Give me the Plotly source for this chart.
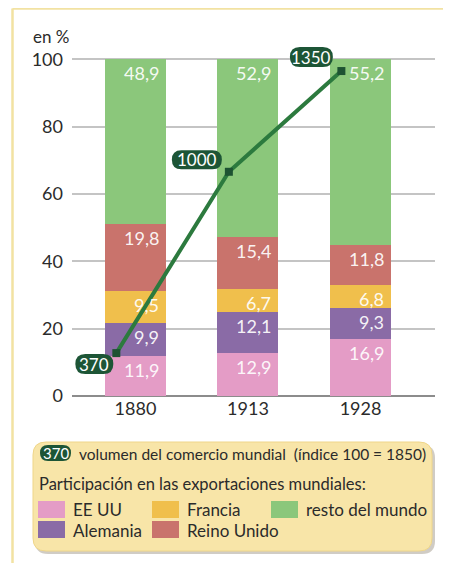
import plotly.graph_objects as go

# data
years = ["1880", "1913", "1928"]
eeuu = [11.9, 12.9, 16.9]
alemania = [9.9, 12.1, 9.3]
francia = [9.5, 6.7, 6.8]
reino_unido = [19.8, 15.4, 11.8]
resto = [48.9, 52.9, 55.2]
volumen = [370, 1000, 1350]

series = [
    ("EE UU", eeuu, "#e49cc6"),
    ("Alemania", alemania, "#8a6ba6"),
    ("Francia", francia, "#f0bf4c"),
    ("Reino Unido", reino_unido, "#c9736c"),
    ("resto del mundo", resto, "#8bc77b"),
]

FONT = "Lato"
OFF = 8                      # page body margin
W, H = 451 - 2 * OFF, 571 - 2 * OFF
ML, MR, MT, MB = 64, 8, 38, 167
PW, PH = W - ML - MR, H - MT - MB
BAR_W = 0.542
LINE_DX = -0.17

xs = list(range(len(years)))


def px(x):
    # x in window pixels -> paper
    return (x - OFF - ML) / PW


def py(y):
    return (H - MB - (y - OFF)) / PH


def rrect(x0, y0, x1, y1, r, cx, cy):
    pts = [("M", x0 + r, y0), ("L", x1 - r, y0), ("Q", x1, y0, x1, y0 + r),
           ("L", x1, y1 - r), ("Q", x1, y1, x1 - r, y1), ("L", x0 + r, y1),
           ("Q", x0, y1, x0, y1 - r), ("L", x0, y0 + r), ("Q", x0, y0, x0 + r, y0)]
    out = []
    for p in pts:
        cmd, vals = p[0], p[1:]
        coords = []
        for i in range(0, len(vals), 2):
            coords.append(f"{cx(vals[i]):.5f},{cy(vals[i + 1]):.5f}")
        out.append(cmd + " ".join(coords))
    return " ".join(out) + " Z"


fig = go.Figure()

for name, vals, color in series:
    fig.add_trace(go.Bar(x=xs, y=vals, name=name, width=BAR_W,
                         marker=dict(color=color, line=dict(width=0)),
                         showlegend=False, hoverinfo="skip"))

# segment labels, right-aligned near top of each segment
annotations = []
cum = [0.0] * len(years)
for name, vals, color in series:
    for i, v in enumerate(vals):
        cum[i] += v
        annotations.append(dict(
            x=i + BAR_W / 2, y=cum[i], xref="x", yref="y",
            text=f"{v:.1f}".replace(".", ","), showarrow=False,
            xanchor="right", yanchor="middle", xshift=-5, yshift=-14,
            font=dict(family=FONT, size=18, color="rgba(255,255,255,0.93)")))

# trade volume line
line_x = [x + LINE_DX for x in xs]
fig.add_trace(go.Scatter(x=line_x, y=volumen, yaxis="y2", mode="lines+markers",
                         line=dict(color="#2c7a3e", width=4),
                         marker=dict(symbol="square", size=8, color="#1d5232"),
                         showlegend=False, hoverinfo="skip"))

shapes = []
pill_off = [(-22, -11, 38, 20), (-32, 12, 50, 19), (-30, 14, 43, 20)]
for i, v in enumerate(volumen):
    dx, dy, w, h = pill_off[i]
    shapes.append(dict(type="path", xref="x", yref="y2", xsizemode="pixel",
                       ysizemode="pixel", xanchor=line_x[i], yanchor=v,
                       path=rrect(dx - w / 2, dy - h / 2, dx + w / 2, dy + h / 2, h / 2,
                                  lambda a: a, lambda b: b),
                       fillcolor="#1d5536", line=dict(width=0), layer="above"))
    annotations.append(dict(x=line_x[i], y=v, xref="x", yref="y2", text=str(v),
                            showarrow=False, xshift=dx, yshift=dy,
                            xanchor="center", yanchor="middle",
                            font=dict(family=FONT, size=17, color="white")))

# outer frame (top and left)
shapes.append(dict(type="line", xref="paper", yref="paper", x0=px(12.5), x1=px(443),
                   y0=py(8.5), y1=py(8.5), line=dict(color="#f2e2a2", width=2.5)))
shapes.append(dict(type="line", xref="paper", yref="paper", x0=px(12.5), x1=px(12.5),
                   y0=py(8.5), y1=py(563), line=dict(color="#f2e2a2", width=2.5)))

# legend box with shadow
shapes.append(dict(type="path", xref="paper", yref="paper",
                   path=rrect(35, 445, 435, 554, 13, px, py),
                   fillcolor="rgba(120,110,90,0.35)", line=dict(width=0)))
shapes.append(dict(type="path", xref="paper", yref="paper",
                   path=rrect(33, 442, 432, 551, 13, px, py),
                   fillcolor="#f8e5a8", line=dict(color="#efd68a", width=1)))
shapes.append(dict(type="path", xref="paper", yref="paper",
                   path=rrect(40, 445, 71, 461, 8, px, py),
                   fillcolor="#1d5536", line=dict(width=0)))
annotations.append(dict(x=px(55.5), y=py(453), xref="paper", yref="paper",
                        xanchor="center", yanchor="middle",
                        text=str(volumen[0]), showarrow=False,
                        font=dict(family=FONT, size=15, color="white")))

legend_text = dict(family=FONT, size=17, color="#2b2b2b")
annotations.append(dict(x=px(77), y=py(454), xref="paper", yref="paper",
                        xanchor="left", yanchor="middle", showarrow=False,
                        text="volumen del comercio mundial  (índice 100 = 1850)",
                        font=dict(family=FONT, size=15.5, color="#2b2b2b")))
annotations.append(dict(x=px(37), y=py(484), xref="paper", yref="paper",
                        xanchor="left", yanchor="middle", showarrow=False,
                        text="Participación en las exportaciones mundiales:",
                        font=dict(family=FONT, size=16.5, color="#2b2b2b")))

legend_pos = [(38, 501), (38, 521), (152, 501), (152, 521), (271, 501)]
for (name, vals, color), (lx, ly) in zip(series, legend_pos):
    shapes.append(dict(type="rect", xref="paper", yref="paper",
                       x0=px(lx), x1=px(lx + 27), y0=py(ly), y1=py(ly + 17),
                       fillcolor=color, line=dict(width=0)))
    annotations.append(dict(x=px(lx + 33), y=py(ly + 9), xref="paper", yref="paper",
                            xanchor="left", yanchor="middle", showarrow=False,
                            text=name, font=legend_text))

annotations.append(dict(x=px(31), y=py(36), xref="paper", yref="paper",
                        xanchor="left", yanchor="middle", showarrow=False,
                        text="en %", font=dict(family=FONT, size=17, color="#2b2b2b")))

fig.update_layout(
    width=W, height=H,
    margin=dict(l=ML, r=MR, t=MT, b=MB, pad=0),
    barmode="stack", bargap=0,
    plot_bgcolor="white", paper_bgcolor="white",
    font=dict(family=FONT, color="#2b2b2b"),
    xaxis=dict(range=[-0.564, 2.662], tickvals=xs, ticktext=years,
               showgrid=False, zeroline=False, showline=False, ticks="",
               tickfont=dict(size=18, color="#2b2b2b"), fixedrange=True),
    yaxis=dict(range=[0, 104], tickvals=[0, 20, 40, 60, 80, 100],
               showgrid=True, gridcolor="#c4c4c4", gridwidth=1.5,
               zeroline=True, zerolinecolor="#8c8c8c", zerolinewidth=2,
               ticks="", ticklabelstandoff=8,
               tickfont=dict(size=18, color="#2b2b2b"), fixedrange=True),
    yaxis2=dict(range=[221, 1437], overlaying="y", visible=False, fixedrange=True),
    shapes=shapes,
    annotations=annotations,
)

fig.write_html("out.html")
